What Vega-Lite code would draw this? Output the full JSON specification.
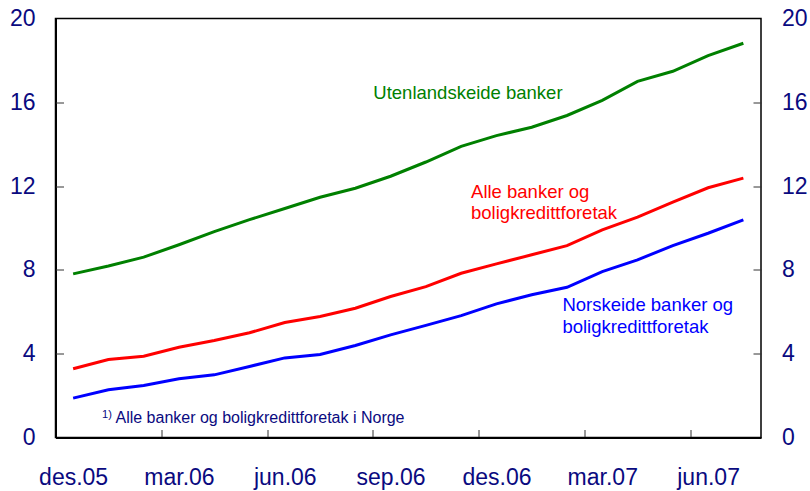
{
  "$schema": "https://vega.github.io/schema/vega-lite/v6.json",
  "width": 705.5,
  "height": 419,
  "autosize": {"type": "none"},
  "padding": {"left": 55.5, "top": 18.5, "right": 49, "bottom": 53.5},
  "background": "white",
  "config": {"view": {"stroke": "#000", "strokeWidth": 1.5}, "font": "Liberation Sans"},
  "resolve": {"axis": {"x": "independent", "y": "independent"}},
  "layer": [
    {
      "data": {"values": [
        {"month": "des.05", "i": 0, "series": "Utenlandskeide banker", "value": 7.81},
        {"month": "jan.06", "i": 1, "series": "Utenlandskeide banker", "value": 8.19},
        {"month": "feb.06", "i": 2, "series": "Utenlandskeide banker", "value": 8.61},
        {"month": "mar.06", "i": 3, "series": "Utenlandskeide banker", "value": 9.2},
        {"month": "apr.06", "i": 4, "series": "Utenlandskeide banker", "value": 9.83},
        {"month": "mai.06", "i": 5, "series": "Utenlandskeide banker", "value": 10.4},
        {"month": "jun.06", "i": 6, "series": "Utenlandskeide banker", "value": 10.93},
        {"month": "jul.06", "i": 7, "series": "Utenlandskeide banker", "value": 11.47},
        {"month": "aug.06", "i": 8, "series": "Utenlandskeide banker", "value": 11.9},
        {"month": "sep.06", "i": 9, "series": "Utenlandskeide banker", "value": 12.47},
        {"month": "okt.06", "i": 10, "series": "Utenlandskeide banker", "value": 13.15},
        {"month": "nov.06", "i": 11, "series": "Utenlandskeide banker", "value": 13.9},
        {"month": "des.06", "i": 12, "series": "Utenlandskeide banker", "value": 14.41},
        {"month": "jan.07", "i": 13, "series": "Utenlandskeide banker", "value": 14.81},
        {"month": "feb.07", "i": 14, "series": "Utenlandskeide banker", "value": 15.37},
        {"month": "mar.07", "i": 15, "series": "Utenlandskeide banker", "value": 16.09},
        {"month": "apr.07", "i": 16, "series": "Utenlandskeide banker", "value": 17.0},
        {"month": "mai.07", "i": 17, "series": "Utenlandskeide banker", "value": 17.48},
        {"month": "jun.07", "i": 18, "series": "Utenlandskeide banker", "value": 18.23},
        {"month": "jul.07", "i": 19, "series": "Utenlandskeide banker", "value": 18.82},
        {"month": "des.05", "i": 0, "series": "Alle banker og boligkredittforetak", "value": 3.28},
        {"month": "jan.06", "i": 1, "series": "Alle banker og boligkredittforetak", "value": 3.72},
        {"month": "feb.06", "i": 2, "series": "Alle banker og boligkredittforetak", "value": 3.88},
        {"month": "mar.06", "i": 3, "series": "Alle banker og boligkredittforetak", "value": 4.31},
        {"month": "apr.06", "i": 4, "series": "Alle banker og boligkredittforetak", "value": 4.63},
        {"month": "mai.06", "i": 5, "series": "Alle banker og boligkredittforetak", "value": 5.0},
        {"month": "jun.06", "i": 6, "series": "Alle banker og boligkredittforetak", "value": 5.49},
        {"month": "jul.06", "i": 7, "series": "Alle banker og boligkredittforetak", "value": 5.78},
        {"month": "aug.06", "i": 8, "series": "Alle banker og boligkredittforetak", "value": 6.17},
        {"month": "sep.06", "i": 9, "series": "Alle banker og boligkredittforetak", "value": 6.73},
        {"month": "okt.06", "i": 10, "series": "Alle banker og boligkredittforetak", "value": 7.2},
        {"month": "nov.06", "i": 11, "series": "Alle banker og boligkredittforetak", "value": 7.84},
        {"month": "des.06", "i": 12, "series": "Alle banker og boligkredittforetak", "value": 8.29},
        {"month": "jan.07", "i": 13, "series": "Alle banker og boligkredittforetak", "value": 8.72},
        {"month": "feb.07", "i": 14, "series": "Alle banker og boligkredittforetak", "value": 9.16},
        {"month": "mar.07", "i": 15, "series": "Alle banker og boligkredittforetak", "value": 9.91},
        {"month": "apr.07", "i": 16, "series": "Alle banker og boligkredittforetak", "value": 10.52},
        {"month": "mai.07", "i": 17, "series": "Alle banker og boligkredittforetak", "value": 11.23},
        {"month": "jun.07", "i": 18, "series": "Alle banker og boligkredittforetak", "value": 11.92},
        {"month": "jul.07", "i": 19, "series": "Alle banker og boligkredittforetak", "value": 12.38},
        {"month": "des.05", "i": 0, "series": "Norskeide banker og boligkredittforetak", "value": 1.88},
        {"month": "jan.06", "i": 1, "series": "Norskeide banker og boligkredittforetak", "value": 2.28},
        {"month": "feb.06", "i": 2, "series": "Norskeide banker og boligkredittforetak", "value": 2.48},
        {"month": "mar.06", "i": 3, "series": "Norskeide banker og boligkredittforetak", "value": 2.8},
        {"month": "apr.06", "i": 4, "series": "Norskeide banker og boligkredittforetak", "value": 2.99},
        {"month": "mai.06", "i": 5, "series": "Norskeide banker og boligkredittforetak", "value": 3.39},
        {"month": "jun.06", "i": 6, "series": "Norskeide banker og boligkredittforetak", "value": 3.8},
        {"month": "jul.06", "i": 7, "series": "Norskeide banker og boligkredittforetak", "value": 3.96},
        {"month": "aug.06", "i": 8, "series": "Norskeide banker og boligkredittforetak", "value": 4.39},
        {"month": "sep.06", "i": 9, "series": "Norskeide banker og boligkredittforetak", "value": 4.9},
        {"month": "okt.06", "i": 10, "series": "Norskeide banker og boligkredittforetak", "value": 5.35},
        {"month": "nov.06", "i": 11, "series": "Norskeide banker og boligkredittforetak", "value": 5.82},
        {"month": "des.06", "i": 12, "series": "Norskeide banker og boligkredittforetak", "value": 6.38},
        {"month": "jan.07", "i": 13, "series": "Norskeide banker og boligkredittforetak", "value": 6.81},
        {"month": "feb.07", "i": 14, "series": "Norskeide banker og boligkredittforetak", "value": 7.17},
        {"month": "mar.07", "i": 15, "series": "Norskeide banker og boligkredittforetak", "value": 7.92},
        {"month": "apr.07", "i": 16, "series": "Norskeide banker og boligkredittforetak", "value": 8.48},
        {"month": "mai.07", "i": 17, "series": "Norskeide banker og boligkredittforetak", "value": 9.16},
        {"month": "jun.07", "i": 18, "series": "Norskeide banker og boligkredittforetak", "value": 9.75},
        {"month": "jul.07", "i": 19, "series": "Norskeide banker og boligkredittforetak", "value": 10.39}
      ]},
      "mark": {"type": "line", "strokeWidth": 3},
      "encoding": {
        "x": {"field": "i", "type": "quantitative", "scale": {"domain": [-0.5, 19.5], "nice": false, "zero": false},
          "axis": {"orient": "bottom", "values": [2.5, 5.5, 8.5, 11.5, 14.5, 17.5], "labels": false, "tickSize": -8, "tickColor": "#333", "tickWidth": 1, "domainColor": "#000", "domainWidth": 2, "grid": false, "title": null}},
        "y": {"field": "value", "type": "quantitative", "scale": {"domain": [0, 20], "nice": false},
          "axis": {"orient": "left", "values": [0, 4, 8, 12, 16, 20], "ticks": false, "labelPadding": 20.5, "labelFontSize": 23, "labelColor": "#0a0a80", "labelFont": "Liberation Sans", "labelFlush": false, "labelOverlap": false, "domainColor": "#000", "domainWidth": 2, "grid": false, "title": null}},
        "color": {"field": "series", "type": "nominal",
          "scale": {"domain": ["Utenlandskeide banker", "Alle banker og boligkredittforetak", "Norskeide banker og boligkredittforetak"], "range": ["#008000", "#ff0000", "#0000ff"]},
          "legend": null}
      }
    },
    {
      "data": {"values": [{}]},
      "mark": {"type": "text", "text": "Utenlandskeide banker", "align": "left", "baseline": "alphabetic", "fontSize": 18.5, "color": "#008000"},
      "encoding": {
        "x": {"datum": 8.51, "type": "quantitative",
          "axis": {"orient": "bottom", "values": [0, 3, 6, 9, 12, 15, 18], "ticks": false, "domain": false, "grid": false, "title": null, "labelPadding": 29, "labelFontSize": 23, "labelColor": "#0a0a80", "labelFont": "Liberation Sans", "labelFlush": false, "labelOverlap": false,
            "labelExpr": "['des.05','mar.06','jun.06','sep.06','des.06','mar.07','jun.07'][round(datum.value/3)]"}},
        "y": {"datum": 16.18, "type": "quantitative",
          "axis": {"orient": "left", "values": [4, 8, 12, 16], "labels": false, "tickSize": -8, "tickColor": "#333", "tickWidth": 1, "domain": false, "grid": false, "title": null}}
      }
    },
    {
      "data": {"values": [{}]},
      "mark": {"type": "text", "text": ["Alle banker og", "boligkredittforetak"], "lineHeight": 21, "align": "left", "baseline": "alphabetic", "fontSize": 18.5, "color": "#ff0000"},
      "encoding": {
        "x": {"datum": 11.28, "type": "quantitative", "axis": null},
        "y": {"datum": 11.41, "type": "quantitative",
          "axis": {"orient": "right", "values": [0, 4, 8, 12, 16, 20], "ticks": false, "domain": false, "grid": false, "title": null, "labelPadding": 20.5, "labelFontSize": 23, "labelColor": "#0a0a80", "labelFont": "Liberation Sans", "labelFlush": false, "labelOverlap": false}}
      }
    },
    {
      "data": {"values": [{}]},
      "mark": {"type": "text", "text": ["Norskeide banker og", "boligkredittforetak"], "lineHeight": 22, "align": "left", "baseline": "alphabetic", "fontSize": 18.5, "color": "#0000ff"},
      "encoding": {
        "x": {"datum": 13.87, "type": "quantitative", "axis": null},
        "y": {"datum": 6.05, "type": "quantitative",
          "axis": {"orient": "right", "values": [4, 8, 12, 16], "labels": false, "tickSize": -8, "tickColor": "#333", "tickWidth": 1, "domain": false, "grid": false, "title": null}}
      }
    },
    {
      "data": {"values": [{}]},
      "mark": {"type": "text", "text": "Alle banker og boligkredittforetak i Norge", "align": "left", "baseline": "alphabetic", "fontSize": 16, "color": "#0a0a80"},
      "encoding": {
        "x": {"datum": 1.2, "type": "quantitative", "axis": null},
        "y": {"datum": 0.67, "type": "quantitative", "axis": null}
      }
    },
    {
      "data": {"values": [{}]},
      "mark": {"type": "text", "text": "1)", "align": "left", "baseline": "alphabetic", "fontSize": 11, "color": "#0a0a80"},
      "encoding": {
        "x": {"datum": 0.82, "type": "quantitative", "axis": null},
        "y": {"datum": 0.92, "type": "quantitative", "axis": null}
      }
    }
  ]
}
